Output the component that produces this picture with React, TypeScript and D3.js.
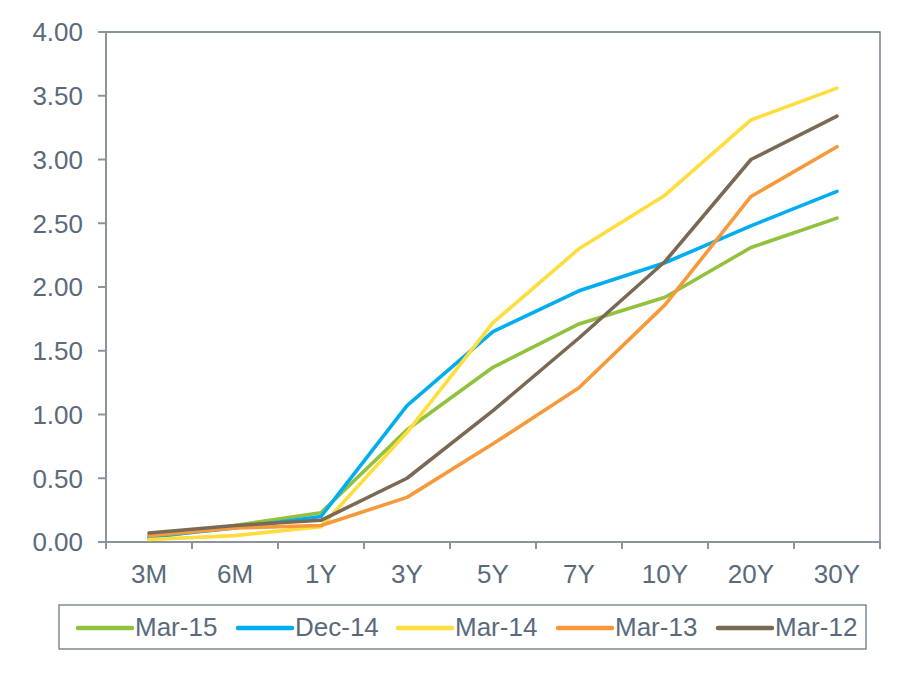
import React from "react";
import * as d3 from "d3";

// yield curve snapshots
const tenors = ["3M", "6M", "1Y", "3Y", "5Y", "7Y", "10Y", "20Y", "30Y"];
const seriesNames = ["Mar-15", "Dec-14", "Mar-14", "Mar-13", "Mar-12"];
const seriesColors = ["#92c13e", "#00aeef", "#ffdd3c", "#f7993b", "#7a6a53"];

const mar15 = [0.03, 0.13, 0.23, 0.88, 1.37, 1.71, 1.92, 2.31, 2.54];
const dec14 = [0.04, 0.11, 0.2, 1.07, 1.65, 1.97, 2.19, 2.48, 2.75];
const mar14 = [0.02, 0.05, 0.12, 0.86, 1.72, 2.3, 2.72, 3.31, 3.56];
const mar13 = [0.05, 0.11, 0.13, 0.35, 0.77, 1.21, 1.86, 2.71, 3.1];
const mar12 = [0.07, 0.13, 0.17, 0.5, 1.03, 1.6, 2.2, 3.0, 3.34];
const seriesValues = [mar15, dec14, mar14, mar13, mar12];

const yTicks = [0, 0.5, 1, 1.5, 2, 2.5, 3, 3.5, 4];

const W = 899, H = 679;
const margin = { top: 32, right: 19, bottom: 137, left: 106 };
const textColor = "#5a6a7a";
const axisColor = "#8a949e";
const font = "'Liberation Sans', Arial, sans-serif";
const fs = 26;

export default function App() {
  const w = W - margin.left - margin.right;
  const h = H - margin.top - margin.bottom;

  const x = d3.scaleBand().domain(tenors).range([0, w]);
  const y = d3.scaleLinear().domain([0, 4]).range([h, 0]);

  const line = d3
    .line<number>()
    .x((d, i) => (x(tenors[i]) as number) + x.bandwidth() / 2)
    .y((d) => y(d));

  const bounds = tenors.map((t) => x(t) as number).concat([w]);

  const legendX = [78, 238, 398, 558, 718];

  return (
    <svg width={W} height={H} style={{ position: "absolute", left: 0, top: 0 }}>
      <rect width={W} height={H} fill="#fff" />
      <g transform={`translate(${margin.left},${margin.top})`}>
        {/* plot border top/right */}
        <path d={`M0,0H${w}V${h}`} fill="none" stroke="#5f6f7e" strokeWidth={1.3} />
        {/* y axis */}
        <line x1={0} x2={0} y1={0} y2={h} stroke={axisColor} strokeWidth={2} />
        {yTicks.map((t) => (
          <g key={t} transform={`translate(0,${y(t)})`}>
            <line x1={-8} x2={0} stroke={axisColor} strokeWidth={2} />
            <text x={-23} dy="0.36em" textAnchor="end" fontSize={fs} fill={textColor} fontFamily={font}>
              {t.toFixed(2)}
            </text>
          </g>
        ))}
        {/* x axis */}
        <line x1={0} x2={w} y1={h} y2={h} stroke={axisColor} strokeWidth={2} />
        {bounds.map((b, i) => (
          <line key={i} x1={b} x2={b} y1={h} y2={h + 7} stroke={axisColor} strokeWidth={2} />
        ))}
        {tenors.map((t) => (
          <text
            key={t}
            x={(x(t) as number) + x.bandwidth() / 2}
            y={h + 41}
            textAnchor="middle"
            fontSize={fs}
            fill={textColor}
            fontFamily={font}
          >
            {t}
          </text>
        ))}
        {seriesValues.map((vals, i) => (
          <path
            key={seriesNames[i]}
            d={line(vals) as string}
            fill="none"
            stroke={seriesColors[i]}
            strokeWidth={3.6}
            strokeLinejoin="round"
            strokeLinecap="round"
          />
        ))}
      </g>
      {/* legend */}
      <rect x={59} y={605} width={807} height={44} fill="#fff" stroke="#6b7885" strokeWidth={1.3} />
      {seriesNames.map((n, i) => (
        <g key={n} transform={`translate(${legendX[i]},628)`}>
          <line x1={0} x2={54} stroke={seriesColors[i]} strokeWidth={4.5} strokeLinecap="round" />
          <text x={57} y={8} fontSize={fs} fill={textColor} fontFamily={font}>
            {n}
          </text>
        </g>
      ))}
    </svg>
  );
}
